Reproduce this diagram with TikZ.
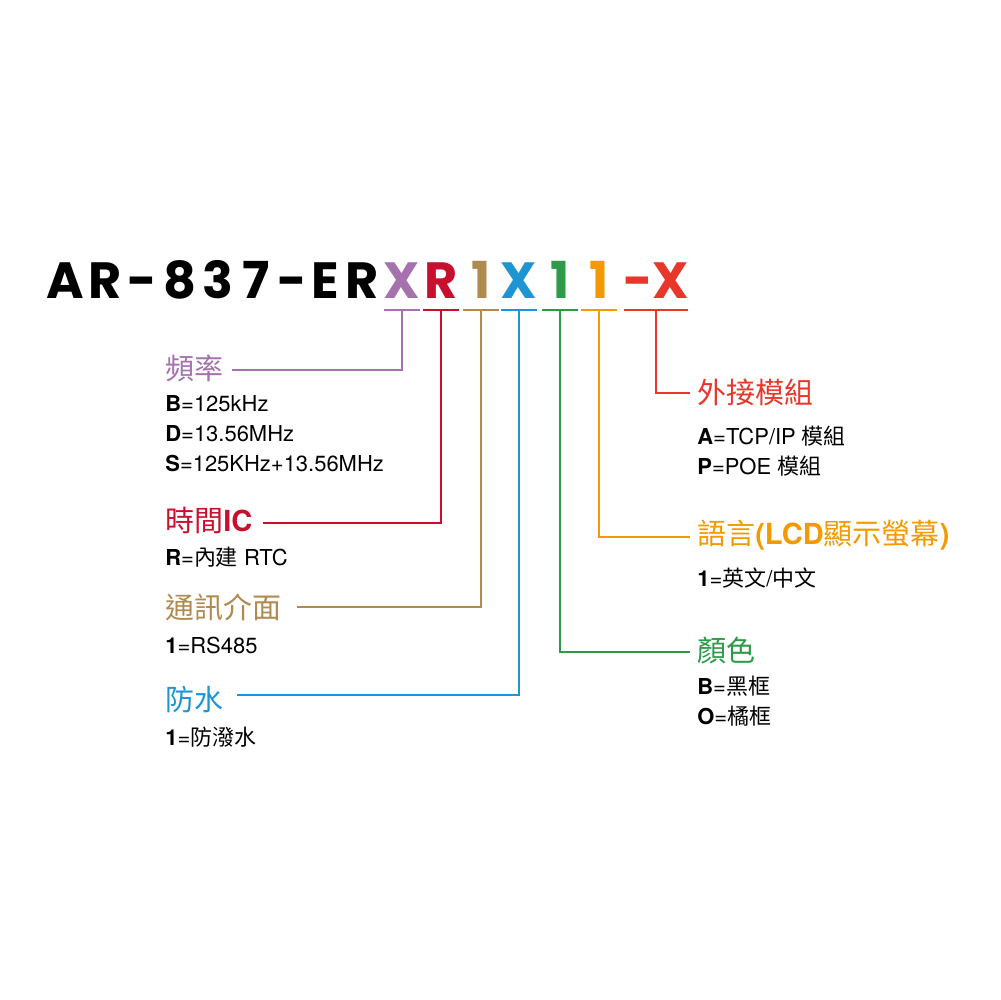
\documentclass[tikz,border=0pt]{standalone}
\usepackage{fontspec}
\setmainfont{TeX Gyre Heros}
\newfontfamily\titlefont{Poppins}
\newfontfamily\cjk{Noto Sans CJK TC}
\usetikzlibrary{positioning}
\definecolor{cPur}{HTML}{A572AE}
\definecolor{cCri}{HTML}{C8102E}
\definecolor{cBro}{HTML}{B08A4E}
\definecolor{cBlu}{HTML}{1E95D3}
\definecolor{cGre}{HTML}{2E9A48}
\definecolor{cOra}{HTML}{F39A00}
\definecolor{cRed}{HTML}{E8362B}
\tikzset{
  code/.style={font=\titlefont\bfseries\fontsize{29}{29}\selectfont,inner sep=0pt,anchor=base},
  head/.style={font=\fontsize{16.5}{18}\selectfont,inner sep=0pt,anchor=west},
  item/.style={font=\fontsize{12.5}{14}\selectfont,inner sep=0pt,anchor=west},
  lead/.style={line width=0.9pt}
}
\begin{document}
\begin{tikzpicture}[x=0.02cm,y=-0.02cm]
  \useasboundingbox (0,0) rectangle (1000,1000);
  % code letters
  \foreach \ch/\xx in {A/65,R/105,-/142,8/180,3/218,7/256,-/292,E/325,R/362}
    \node[code] at (\xx,298) {\ch};
  \foreach \ch/\xx/\cc/\nm in {X/402/cPur/p,R/441/cCri/c,1/481/cBro/b,X/519/cBlu/u,1/560/cGre/g,1/599/cOra/o}{
    \node[code,text=\cc] (\nm) at (\xx,298) {\ch};
    \draw[lead,\cc] (\xx-18,310) -- (\xx+18,310) (\xx,310) -- (\xx,317);
  }
  \node[code,text=cRed] (r) at (656,298) {-X};
  \draw[lead,cRed] (624,310) -- (688,310) (656,310) -- (656,317);
  % left side
  \node[head,text=cPur] (hp) at (165,368) {\cjk 頻率};
  \draw[lead,cPur] (402,317) |- (232,370);
  \node[item] at (165,404) {\textbf{B}=125kHz};
  \node[item] at (165,434) {\textbf{D}=13.56MHz};
  \node[item] at (165,464) {\textbf{S}=125KHz+13.56MHz};
  \node[head,text=cCri] (hc) at (165,520) {{\cjk 時間}\textbf{IC}};
  \draw[lead,cCri] (441,317) |- (263,523);
  \node[item] at (165,557) {\textbf{R}={\cjk 內建} RTC};
  \node[head,text=cBro] (hb) at (165,607) {\cjk 通訊介面};
  \draw[lead,cBro] (481,317) |- (297,607);
  \node[item] at (165,645) {\textbf{1}=RS485};
  \node[head,text=cBlu] (hu) at (165,700) {\cjk 防水};
  \draw[lead,cBlu] (519,317) |- (237,695);
  \node[item] at (165,737) {\textbf{1}={\cjk 防潑水}};
  % right side
  \node[head,text=cRed] (hr) at (697,392) {\cjk 外接模組};
  \draw[lead,cRed] (656,317) |- (690,393);
  \node[item] at (697,436) {\textbf{A}=TCP/IP {\cjk 模組}};
  \node[item] at (697,466) {\textbf{P}=POE {\cjk 模組}};
  \node[head,text=cOra] (ho) at (697,535) {{\cjk 語言}\textbf{(LCD}{\cjk 顯示螢幕}\textbf{)}};
  \draw[lead,cOra] (599,317) |- (690,537);
  \node[item] at (697,578) {\textbf{1}={\cjk 英文}/{\cjk 中文}};
  \node[head,text=cGre] (hg) at (697,650) {\cjk 顏色};
  \draw[lead,cGre] (560,317) |- (690,652);
  \node[item] at (697,686) {\textbf{B}={\cjk 黑框}};
  \node[item] at (697,716) {\textbf{O}={\cjk 橘框}};
\end{tikzpicture}
\end{document}
